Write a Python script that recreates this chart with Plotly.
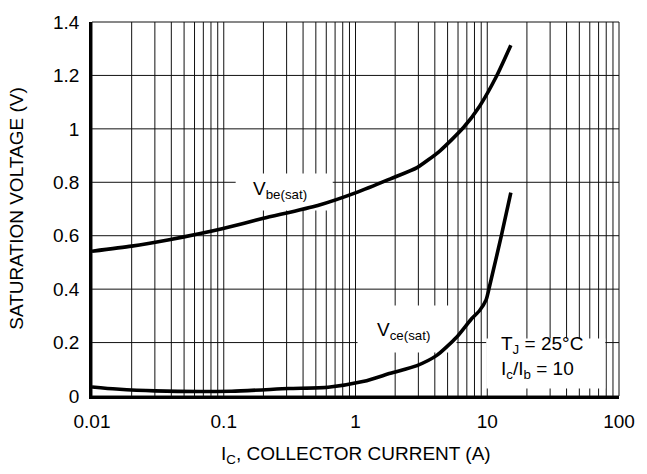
import math
import plotly.graph_objects as go

# Base-emitter saturation voltage vs collector current
vbe_ic = [0.01, 0.02, 0.0386, 0.065, 0.097, 0.2, 0.517, 1.035, 1.84, 2.93, 4.38, 6.6, 8.75, 11.7, 15.1]
vbe_v = [0.542, 0.561, 0.585, 0.607, 0.626, 0.665, 0.713, 0.763, 0.813, 0.855, 0.918, 1.005, 1.085, 1.195, 1.313]

# Collector-emitter saturation voltage vs collector current
vce_ic = [0.01, 0.0153, 0.03, 0.115, 0.31, 0.62, 1.16, 1.84, 2.93, 4.14, 5.85, 7.6, 8.75, 9.8, 10.4, 12.8, 15.1]
vce_v = [0.034, 0.026, 0.019, 0.018, 0.028, 0.033, 0.055, 0.085, 0.114, 0.152, 0.22, 0.289, 0.32, 0.36, 0.41, 0.6, 0.761]

# Axis ticks: every 1..9 step of each decade gets a grid line, decades get a label
x_tickvals = [m * 10.0 ** e for e in range(-2, 2) for m in range(1, 10)] + [100]
x_labels = {0.01: "0.01", 0.1: "0.1", 1: "1", 10: "10", 100: "100"}
x_ticktext = [x_labels.get(round(v, 6), "") for v in x_tickvals]
y_tickvals = [0, 0.2, 0.4, 0.6, 0.8, 1.0, 1.2, 1.4]
y_ticktext = ["0", "0.2", "0.4", "0.6", "0.8", "1", "1.2", "1.4"]

X_RANGE = [-2, 2]
Y_RANGE = [0, 1.4]
FONT = "Liberation Sans, Arial, sans-serif"
GRID = dict(color="#111", width=1)

fig = go.Figure()
for xs, ys in [(vbe_ic, vbe_v), (vce_ic, vce_v)]:
    fig.add_trace(go.Scatter(x=xs, y=ys, mode="lines",
                             line=dict(color="black", width=3.6, shape="spline", smoothing=0.6),
                             showlegend=False, hoverinfo="skip"))

fig.update_layout(
    width=647, height=474,
    margin=dict(l=92, r=23, t=22, b=78),
    paper_bgcolor="white", plot_bgcolor="rgba(0,0,0,0)",
    font=dict(family=FONT, size=19, color="black"),
    xaxis=dict(type="log", range=X_RANGE, tickvals=x_tickvals, ticktext=x_ticktext,
               showgrid=False, zeroline=False,
               showline=True, linecolor="black", linewidth=2.5, ticks="",
               ticklabelstandoff=6),
    yaxis=dict(range=Y_RANGE, tickvals=y_tickvals, ticktext=y_ticktext,
               showgrid=False, zeroline=False,
               showline=True, linecolor="black", linewidth=2.5, ticks="",
               ticklabelstandoff=6),
)

# Grid drawn as shapes beneath the curves, so label panels can sit on top of it
for v in x_tickvals:
    f = (math.log10(v) - X_RANGE[0]) / (X_RANGE[1] - X_RANGE[0])
    fig.add_shape(type="line", xref="x domain", yref="y domain", x0=f, x1=f, y0=0, y1=1,
                  line=GRID, layer="below")
for v in y_tickvals:
    f = (v - Y_RANGE[0]) / (Y_RANGE[1] - Y_RANGE[0])
    fig.add_shape(type="line", xref="x domain", yref="y domain", x0=0, x1=1, y0=f, y1=f,
                  line=GRID, layer="below")

# White panels behind the labels
for x0, x1, y0, y1 in [(0.2726, 0.4568, 0.496, 0.595),
                       (0.5038, 0.6917, 0.1164, 0.2421),
                       (0.748, 0.974, 0.020, 0.154)]:
    fig.add_shape(type="rect", xref="x domain", yref="y domain", x0=x0, x1=x1, y0=y0, y1=y1,
                  fillcolor="white", line=dict(width=0), layer="below")

ann = dict(xref="paper", yref="paper", showarrow=False, font=dict(family=FONT, size=19, color="black"))
fig.add_annotation(text="V<sub>be(sat)</sub>", x=(253 - 92) / 532, y=(395.5 - 190) / 373.8,
                   xanchor="left", yanchor="middle", **ann)
fig.add_annotation(text="V<sub>ce(sat)</sub>", x=(378 - 92) / 532, y=(395.5 - 331) / 373.8,
                   xanchor="left", yanchor="middle", **ann)
fig.add_annotation(text="T<sub>J</sub> = 25°C", x=(503 - 92) / 532, y=(395.5 - 345) / 373.8,
                   xanchor="left", yanchor="middle", **ann)
fig.add_annotation(text="I<sub>c</sub>/I<sub>b</sub> = 10", x=(503 - 92) / 532, y=(395.5 - 370) / 373.8,
                   xanchor="left", yanchor="middle", **ann)
fig.add_annotation(text="SATURATION VOLTAGE (V)", x=-(92 - 15) / 532, y=0.5, textangle=-90,
                   xanchor="center", yanchor="middle", **ann)
fig.add_annotation(text="I<sub>C</sub>, COLLECTOR CURRENT (A)", x=0.5, y=(395.5 - 454) / 373.8,
                   xanchor="center", yanchor="middle", **ann)

fig.write_html("out.html")
